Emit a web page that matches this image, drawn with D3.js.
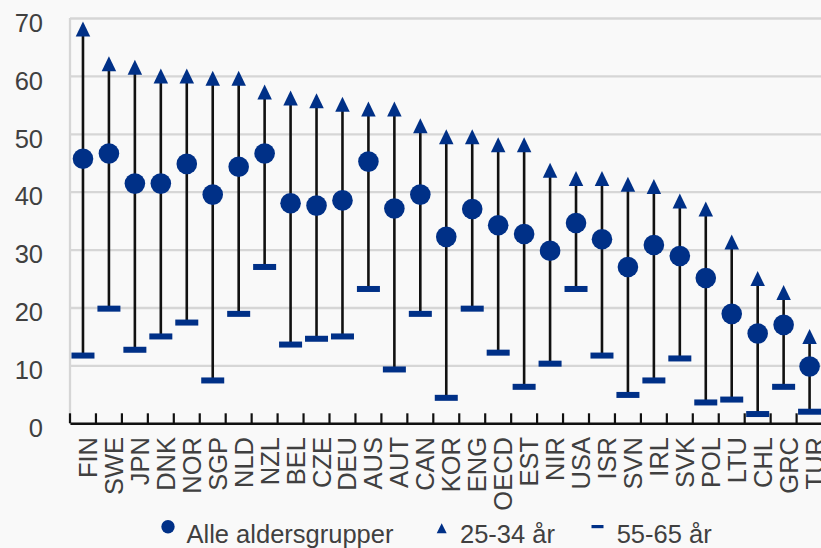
<!DOCTYPE html>
<html>
<head>
<meta charset="utf-8">
<script src="https://cdn.jsdelivr.net/npm/d3@7"></script>
<style>
  html, body { margin: 0; padding: 0; background: #f9f9f9; }
  svg { display: block; }
  text { font-family: "Liberation Sans", Arial, sans-serif; fill: #404040; }
</style>
</head>
<body>
<svg id="chart" width="821" height="548"></svg>
<script>
// ---- Data ----
const categories = ["FIN","SWE","JPN","DNK","NOR","SGP","NLD","NZL","BEL","CZE","DEU","AUS","AUT","CAN","KOR","ENG","OECD","EST","NIR","USA","ISR","SVN","IRL","SVK","POL","LTU","CHL","GRC","TUR"];
const allAges = [45.7, 46.6, 41.4, 41.4, 44.8, 39.5, 44.3, 46.6, 38.0, 37.6, 38.5, 45.2, 37.1, 39.5, 32.2, 37.0, 34.2, 32.7, 29.8, 34.6, 31.8, 27.0, 30.8, 28.9, 25.1, 18.9, 15.5, 17.0, 9.8];
const age25to34 = [68.1, 62.1, 61.5, 60.0, 60.0, 59.6, 59.6, 57.2, 56.2, 55.7, 55.1, 54.3, 54.3, 51.4, 49.5, 49.5, 48.1, 48.1, 43.7, 42.3, 42.3, 41.3, 40.9, 38.4, 37.0, 31.3, 25.0, 22.6, 15.0];
const age55to65 = [11.7, 19.8, 12.7, 15.0, 17.4, 7.4, 18.9, 27.0, 13.6, 14.6, 15.0, 23.2, 9.3, 18.9, 4.4, 19.8, 12.2, 6.3, 10.3, 23.2, 11.7, 4.9, 7.4, 11.2, 3.6, 4.1, 1.6, 6.3, 2.0];
const yTicks = [0, 10, 20, 30, 40, 50, 60, 70];
const seriesNames = ["Alle aldersgrupper", "25-34 år", "55-65 år"];

const rows = categories.map((c, i) => ({ c, all: allAges[i], young: age25to34[i], old: age55to65[i] }));

// ---- Layout ----
const navy = "#003087";
const svg = d3.select("#chart");
const left = 70, step = 25.95;
const x = d3.scaleBand().domain(categories).range([left, left + step * categories.length]).padding(0);
const y = d3.scaleLinear().domain([0, 70]).range([423.3, 18]);

// gridlines via axis
const grid = svg.append("g")
  .attr("transform", `translate(${left},0)`)
  .call(d3.axisLeft(y).tickValues(yTicks).tickSize(-(x.range()[1] - left)).tickFormat(""));
grid.select(".domain").remove();
grid.selectAll(".tick line").attr("stroke", "#d6d6d6").attr("stroke-width", 2.3);

// left border
svg.append("line")
  .attr("x1", left).attr("x2", left).attr("y1", y(70)).attr("y2", y(0))
  .attr("stroke", "#d6d6d6").attr("stroke-width", 2.3);

// y tick labels
const yAx = svg.append("g")
  .attr("transform", `translate(${left},0)`)
  .call(d3.axisLeft(y).tickValues(yTicks).tickSize(0).tickPadding(27));
yAx.select(".domain").remove();
yAx.selectAll(".tick text")
  .attr("font-size", "25.5px").attr("fill", "#404040")
  .attr("font-family", "Liberation Sans, Arial, sans-serif")
  .attr("dy", "0.52em").attr("dx", "0");

// vertical range lines
svg.append("g").selectAll("line").data(rows).join("line")
  .attr("x1", d => x(d.c) + x.bandwidth() / 2)
  .attr("x2", d => x(d.c) + x.bandwidth() / 2)
  .attr("y1", d => y(d.young))
  .attr("y2", d => y(d.old))
  .attr("stroke", "#111").attr("stroke-width", 2.6);

// x axis line
const xAx = svg.append("g")
  .attr("transform", `translate(0,${y(0)})`)
  .call(d3.axisBottom(x).tickSize(0).tickFormat(""));
xAx.select(".domain").attr("stroke", "#111").attr("stroke-width", 2.6);

// boundary ticks (pointing up)
const bounds = categories.map(c => x(c)).concat([x.range()[1]]);
svg.append("g").selectAll("line").data(bounds).join("line")
  .attr("x1", d => d).attr("x2", d => d)
  .attr("y1", y(0) - 10).attr("y2", y(0))
  .attr("stroke", "#111").attr("stroke-width", 2.2);

// x labels rotated
svg.append("g").selectAll("text").data(categories).join("text")
  .attr("transform", c => `translate(${x(c) + x.bandwidth() / 2 + 14},437) rotate(-90)`)
  .attr("text-anchor", "end")
  .attr("font-size", "25.5px")
  .text(c => c);

// 55-65 dashes
svg.append("g").selectAll("rect").data(rows).join("rect")
  .attr("x", d => x(d.c) + x.bandwidth() / 2 - 11.5)
  .attr("y", d => y(d.old) - 3)
  .attr("width", 23).attr("height", 6)
  .attr("fill", navy);

// 25-34 triangles
const triPath = (w, h) => `M0,${-h/2}L${w/2},${h/2}L${-w/2},${h/2}Z`;
svg.append("g").selectAll("path").data(rows).join("path")
  .attr("transform", d => `translate(${x(d.c) + x.bandwidth() / 2},${y(d.young)})`)
  .attr("d", triPath(14.5, 15))
  .attr("fill", navy);

// all ages circles
svg.append("g").selectAll("circle").data(rows).join("circle")
  .attr("cx", d => x(d.c) + x.bandwidth() / 2)
  .attr("cy", d => y(d.all))
  .attr("r", 10.3)
  .attr("fill", navy);

// legend
const leg = svg.append("g");
leg.append("circle").attr("cx", 168).attr("cy", 526.7).attr("r", 6.7).attr("fill", navy);
leg.append("text").attr("x", 186.5).attr("y", 543.3).attr("font-size", "25.5px").text(seriesNames[0]);
leg.append("path").attr("transform", "translate(441.7,528.3)").attr("d", triPath(10, 10)).attr("fill", navy);
leg.append("text").attr("x", 460).attr("y", 543.3).attr("font-size", "25.5px").text(seriesNames[1]);
leg.append("rect").attr("x", 591.5).attr("y", 525).attr("width", 12).attr("height", 3.2).attr("fill", navy);
leg.append("text").attr("x", 616.7).attr("y", 543.3).attr("font-size", "25.5px").text(seriesNames[2]);
</script>
</body>
</html>
